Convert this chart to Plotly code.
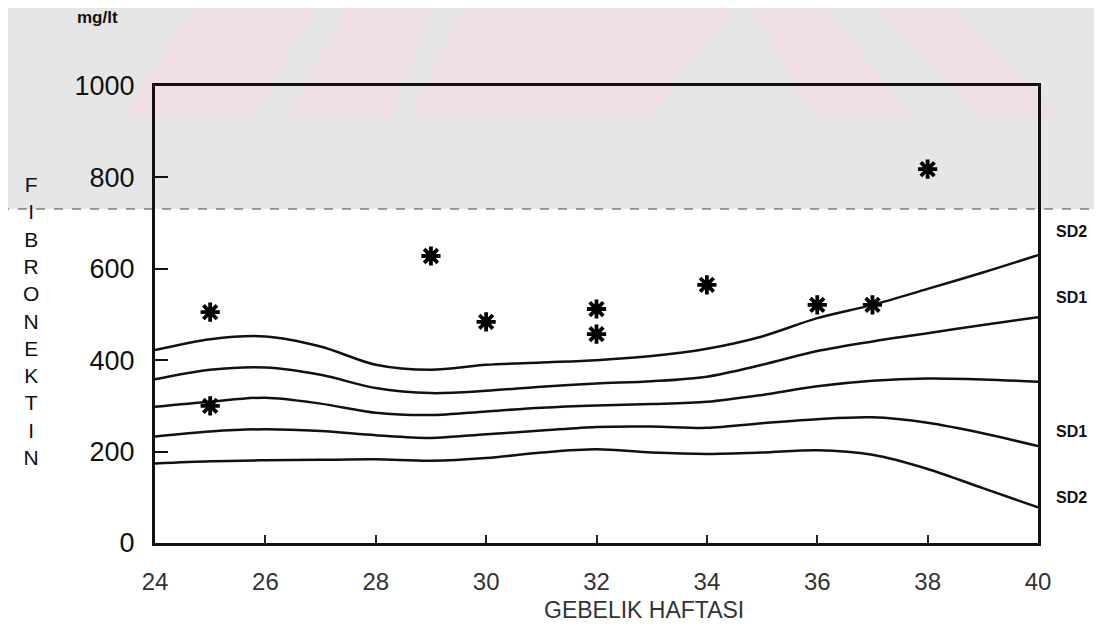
import plotly.graph_objects as go

# ---- data ----
weeks = [24, 25, 26, 27, 28, 29, 30, 31, 32, 33, 34, 35, 36, 37, 38, 39, 40]
sd2_upper = [422, 446, 452, 430, 390, 379, 390, 395, 400, 409, 425, 452, 492, 521, 556, 592, 630]
sd1_upper = [358, 379, 384, 368, 339, 328, 333, 342, 349, 354, 364, 390, 420, 441, 459, 477, 494]
mean_line = [298, 309, 318, 305, 285, 280, 288, 296, 301, 304, 309, 324, 343, 355, 360, 358, 353]
sd1_lower = [233, 244, 249, 245, 236, 230, 238, 246, 254, 255, 252, 262, 271, 275, 263, 240, 212]
sd2_lower = [174, 179, 181, 182, 183, 180, 186, 198, 205, 198, 195, 198, 203, 193, 162, 120, 78]

case_weeks = [25, 25, 29, 30, 32, 32, 34, 36, 37, 38]
case_values = [505, 300, 628, 484, 512, 457, 565, 521, 521, 818]

x_ticks = [24, 26, 28, 30, 32, 34, 36, 38, 40]
y_ticks = [0, 200, 400, 600, 800, 1000]
y_title_letters = list("FIBRONEKTIN")
right_labels = ["SD2", "SD1", "SD1", "SD2"]

# ---- layout geometry (screen pixels; page body adds an 8px offset) ----
OFF = 8
SW, SH = 1102, 635
W, H = SW - OFF, SH - OFF
L, R, T, B = 155, 1038, 86, 543   # plot area in screen pixels


def px(xp):
    return (xp - L) / (R - L)


def py(yp):
    return (B - yp) / (B - T)


def poly(points):
    return "M " + " L ".join(f"{px(a):.4f},{py(b):.4f}" for a, b in points) + " Z"


fig = go.Figure()

for series in [sd2_upper, sd1_upper, mean_line, sd1_lower, sd2_lower]:
    fig.add_trace(go.Scatter(
        x=weeks, y=series, mode="lines",
        line=dict(color="#111111", width=2.5, shape="spline", smoothing=0.9),
        hoverinfo="skip", showlegend=False,
    ))

fig.add_trace(go.Scatter(
    x=case_weeks, y=case_values, mode="markers",
    marker=dict(symbol="asterisk-open", size=16, color="#000000",
                line=dict(color="#000000", width=3.8)),
    showlegend=False,
))

shapes = []
# scanned grey band at top
shapes.append(dict(type="rect", xref="paper", yref="paper",
                   x0=px(0), x1=px(SW + 10), y0=py(209), y1=py(-10),
                   fillcolor="#e6e6e6", line=dict(width=0), layer="below"))
# faint pink watermark stripes
for pts in [
    [(120, 118), (253, 118), (320, 0), (200, 0)],
    [(287, 118), (390, 118), (435, 0), (350, 0)],
    [(410, 118), (647, 118), (740, 0), (467, 0)],
    [(747, 0), (820, 0), (913, 118), (813, 118)],
    [(870, 0), (947, 0), (1063, 118), (980, 118)],
]:
    shapes.append(dict(type="path", xref="paper", yref="paper", path=poly(pts),
                       fillcolor="#f1e0e3", line=dict(width=0), layer="below"))
# fold line of the scan
shapes.append(dict(type="line", xref="paper", yref="paper",
                   x0=px(0), x1=px(SW + 10), y0=py(209), y1=py(209),
                   line=dict(color="#444444", width=1, dash="dash"), layer="below"))

annotations = []


def note(text, xs, ys, size, color="#111"):
    annotations.append(dict(text=text, x=px(xs), y=py(ys), xref="paper", yref="paper",
                            xanchor="center", yanchor="middle", showarrow=False,
                            font=dict(family="Liberation Sans", size=size, color=color)))


note("<b>mg/lt</b>", 97, 17, 17)
note("<br>".join(y_title_letters), 31, 321, 21)
note("GEBELIK HAFTASI", 644, 610, 23, "#333")
for lab, yp in zip(right_labels, [231, 297, 431, 497]):
    note("<b>" + lab + "</b>", 1071, yp, 16)

fig.update_layout(
    width=W, height=H,
    margin=dict(l=L - OFF, r=SW - R, t=T - OFF, b=SH - B),
    paper_bgcolor="white", plot_bgcolor="rgba(0,0,0,0)",
    shapes=shapes, annotations=annotations,
    showlegend=False,
    font=dict(family="Liberation Sans", color="#111"),
)
fig.update_xaxes(
    range=[24, 40], tickvals=x_ticks, ticktext=[str(v) for v in x_ticks],
    showgrid=False, zeroline=False, showline=True, linecolor="#111", linewidth=3,
    mirror=True, ticks="inside", ticklen=8, tickwidth=1.5, tickcolor="#222",
    tickfont=dict(family="Liberation Sans", size=24, color="#333"),
    ticklabelstandoff=15,
)
fig.update_yaxes(
    range=[0, 1000], tickvals=y_ticks, ticktext=[str(v) for v in y_ticks],
    showgrid=False, zeroline=False, showline=True, linecolor="#111", linewidth=3,
    mirror=True, ticks="inside", ticklen=13, tickwidth=2, tickcolor="#111",
    tickfont=dict(family="Liberation Sans", size=27, color="#111"),
    ticklabelstandoff=12,
)

fig.write_html("out.html")
